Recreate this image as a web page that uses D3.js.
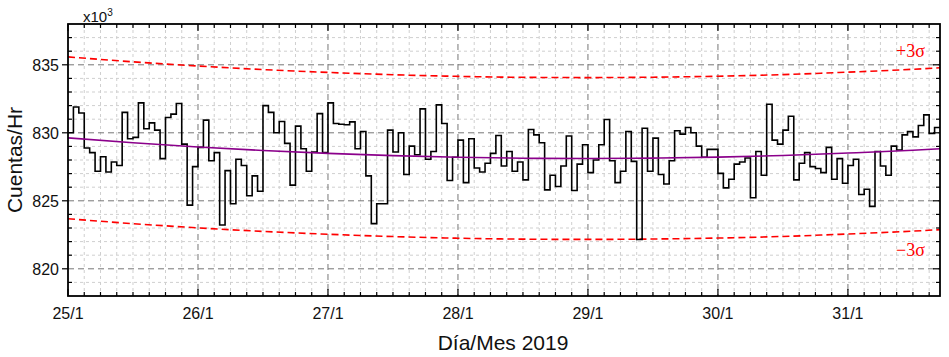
<!DOCTYPE html>
<html><head><meta charset="utf-8">
<script src="https://cdn.jsdelivr.net/npm/d3@7"></script>
<style>
html,body{margin:0;padding:0;background:#fff;}
svg{display:block;font-family:"Liberation Sans",Arial,Helvetica,sans-serif;}
.sig{font-family:"Liberation Serif","Times New Roman",serif;}
</style></head>
<body><svg id="c" width="949" height="357"></svg>
<script>
// ---- data (hourly counts, x10^3) starting 25/1/2019 00:00 ----
const startDate = Date.UTC(2019, 0, 25, 0);
const hourlyCounts = [
830.0,831.9,831.46,828.88,828.54,827.17,828.24,827.12,827.85,827.6,
831.5,829.56,829.66,832.2,830.3,830.73,830.2,828.1,831.12,831.37,
832.15,829.17,824.68,827.51,828.93,830.93,827.95,828.54,823.22,827.22,
824.78,828.05,827.6,825.37,826.83,825.7,832.0,831.5,830.0,830.83,
829.22,826.15,830.49,828.83,827.17,828.59,831.41,828.54,832.2,830.68,
830.63,830.59,830.8,828.83,830.1,826.83,823.32,824.78,824.78,830.2,
828.59,830.0,826.93,829.02,828.39,831.76,828.05,828.63,832.05,830.68,
826.49,828.2,829.46,826.34,829.56,827.41,827.12,827.76,828.49,829.8,
827.56,828.63,827.17,827.85,826.54,830.24,829.85,829.27,825.8,826.88,
826.05,827.56,829.76,825.76,827.7,829.12,827.07,828.0,829.12,830.98,
827.95,826.34,827.17,830.1,827.9,822.15,830.34,827.17,829.61,826.93,
826.24,827.95,830.15,829.9,830.39,830.0,829.02,828.2,828.78,828.78,
827.02,825.95,826.59,827.7,827.85,828.15,825.22,828.63,826.88,832.1,
829.46,829.17,830.2,831.22,826.54,827.76,828.54,827.51,827.37,827.07,
828.93,826.59,828.1,826.29,827.6,828.05,825.46,825.85,824.59,828.63,
827.56,826.88,829.02,828.73,829.85,830.1,829.7,830.54,831.32,829.95,
830.39
];
// fitted trend and +/-3 sigma limits, sampled every 12 h (last at 161 h)
const fitHours = [0,12,24,36,48,60,72,84,96,108,120,132,144,156,161];
const fitValues = [829.63,829.27,828.96,828.70,828.49,828.32,828.20,828.13,828.11,828.14,828.21,828.33,828.51,828.72,828.83];
const upperValues = [835.58,835.22,834.91,834.65,834.44,834.27,834.15,834.08,834.06,834.09,834.16,834.28,834.46,834.67,834.78];
const lowerValues = [823.68,823.32,823.01,822.75,822.54,822.37,822.25,822.18,822.16,822.19,822.26,822.38,822.56,822.77,822.88];
const yTickValues = [820, 825, 830, 835];
const yTickLabels = ["820", "825", "830", "835"];
const totalHours = 161;

// ---- layout ----
const L = 68, R = 940, T = 24, B = 296;
const svg = d3.select("#c");
const H = 3600e3;
const x = d3.scaleUtc().domain([new Date(startDate), new Date(startDate + totalHours*H)]).range([L, R]);
const y = d3.scaleLinear().domain([818, 838]).range([B, T]);

const majorX = x.ticks(d3.utcDay.every(1));
const minorX = x.ticks(d3.utcHour.every(3)).filter(d => d.getUTCHours() !== 0);
const minorY = d3.range(819, 838, 1).filter(v => v % 5 !== 0);

const g = svg.append("g");
// minor grid
g.selectAll(".mgx").data(minorX).join("line")
  .attr("x1", d => x(d)).attr("x2", d => x(d)).attr("y1", T).attr("y2", B)
  .attr("stroke", "#cfcfcf").attr("stroke-width", 1).attr("stroke-dasharray", "3,3");
g.selectAll(".mgy").data(minorY).join("line")
  .attr("x1", L).attr("x2", R).attr("y1", d => y(d)).attr("y2", d => y(d))
  .attr("stroke", "#cfcfcf").attr("stroke-width", 1).attr("stroke-dasharray", "3,3");
// major grid
g.selectAll(".Mgx").data(majorX.filter(d => x(d) > L + 1)).join("line")
  .attr("x1", d => x(d)).attr("x2", d => x(d)).attr("y1", T).attr("y2", B)
  .attr("stroke", "#777").attr("stroke-width", 1).attr("stroke-dasharray", "6,4");
g.selectAll(".Mgy").data(yTickValues).join("line")
  .attr("x1", L).attr("x2", R).attr("y1", d => y(d)).attr("y2", d => y(d))
  .attr("stroke", "#777").attr("stroke-width", 1).attr("stroke-dasharray", "6,4");

// sigma lines
const hx = h => x(new Date(startDate + h*H));
const smooth = d3.line().x(d => hx(d[0])).y(d => y(d[1])).curve(d3.curveMonotoneX);
const upperPts = fitHours.map((h,i) => [h, upperValues[i]]);
const lowerPts = fitHours.map((h,i) => [h, lowerValues[i]]);
const fitPts = fitHours.map((h,i) => [h, fitValues[i]]);
svg.append("path").attr("d", smooth(upperPts)).attr("fill","none").attr("stroke","#ff0000").attr("stroke-width",1.6).attr("stroke-dasharray","7,4");
svg.append("path").attr("d", smooth(lowerPts)).attr("fill","none").attr("stroke","#ff0000").attr("stroke-width",1.6).attr("stroke-dasharray","7,4");

// step data
const stepPts = hourlyCounts.map((v,i) => [i, v]);
stepPts.push([hourlyCounts.length, hourlyCounts[hourlyCounts.length-1]]);
const step = d3.line().x(d => hx(d[0])).y(d => y(d[1])).curve(d3.curveStepAfter);
svg.append("path").attr("d", step(stepPts)).attr("fill","none").attr("stroke","#000").attr("stroke-width",1.6);

// fit line
svg.append("path").attr("d", smooth(fitPts)).attr("fill","none").attr("stroke","#8b008b").attr("stroke-width",1.6);

// frame
svg.append("rect").attr("x", L).attr("y", T).attr("width", R-L).attr("height", B-T)
  .attr("fill","none").attr("stroke","#000").attr("stroke-width",1.8);

// ticks
const tk = svg.append("g").attr("stroke","#000").attr("stroke-width",1.2);
majorX.forEach(d => {
  tk.append("line").attr("x1",x(d)).attr("x2",x(d)).attr("y1",B).attr("y2",B-7);
  tk.append("line").attr("x1",x(d)).attr("x2",x(d)).attr("y1",T).attr("y2",T+7);
});
minorX.forEach(d => {
  tk.append("line").attr("x1",x(d)).attr("x2",x(d)).attr("y1",B).attr("y2",B-4);
  tk.append("line").attr("x1",x(d)).attr("x2",x(d)).attr("y1",T).attr("y2",T+4);
});
yTickValues.forEach(v => {
  tk.append("line").attr("x1",L).attr("x2",L-6).attr("y1",y(v)).attr("y2",y(v));
  tk.append("line").attr("x1",R).attr("x2",R-7).attr("y1",y(v)).attr("y2",y(v));
});
minorY.forEach(v => {
  tk.append("line").attr("x1",L).attr("x2",L+4).attr("y1",y(v)).attr("y2",y(v));
  tk.append("line").attr("x1",R).attr("x2",R-4).attr("y1",y(v)).attr("y2",y(v));
});

// labels
const fmt = d3.utcFormat("%-d/%-m");
svg.selectAll(".xl").data(majorX).join("text")
  .attr("x", d => x(d)).attr("y", 319).attr("text-anchor","middle")
  .attr("font-size", 16).attr("fill","#111").text(d => fmt(d));
svg.selectAll(".yl").data(yTickValues).join("text")
  .attr("x", 59).attr("y", d => y(d) + 5.8).attr("text-anchor","end")
  .attr("font-size", 16).attr("fill","#111").text((d,i) => yTickLabels[i]);

const ex = svg.append("text").attr("x", 83).attr("y", 22).attr("font-size", 15).attr("fill","#111");
ex.append("tspan").text("x10");
ex.append("tspan").attr("font-size", 10).attr("dy", -6).text("3");

svg.append("text").attr("transform","translate(22,160) rotate(-90)").attr("text-anchor","middle")
  .attr("font-size", 21).attr("fill","#111").text("Cuentas/Hr");
svg.append("text").attr("x", 503).attr("y", 350).attr("text-anchor","middle")
  .attr("font-size", 21).attr("fill","#111").text("Día/Mes 2019");

svg.append("text").attr("class","sig").attr("x", 896).attr("y", 57)
  .attr("font-size", 18).attr("fill","#ff0000").text("+3σ");
svg.append("text").attr("class","sig").attr("x", 896).attr("y", 256)
  .attr("font-size", 18).attr("fill","#ff0000").text("\u22123σ");
</script></body></html>
